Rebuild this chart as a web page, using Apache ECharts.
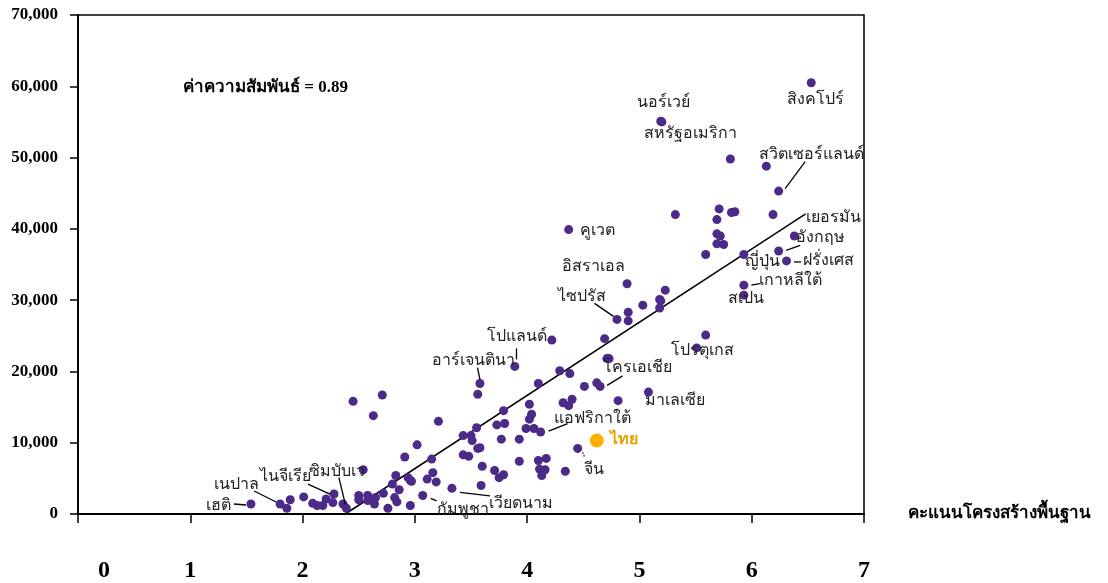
<!DOCTYPE html>
<html>
<head>
<meta charset="utf-8">
<script src="https://cdn.jsdelivr.net/npm/echarts@6/dist/echarts.min.js"></script>
<style>
html,body{margin:0;padding:0;background:#fff;}
#chart{width:1108px;height:583px;}
</style>
</head>
<body>
<div id="chart"></div>
<script>
// ---- data ----
// x: infrastructure score, y: GDP per capita (USD)
const labeledNames = ['เฮติ','เนปาล','ไนจีเรีย','ซิมบับเว','กัมพูชา','เวียดนาม','จีน','แอฟริกาใต้','มาเลเซีย','โครเอเชีย','โปรตุเกส','อาร์เจนตินา','โปแลนด์','ไซปรัส','อิสราเอล','คูเวต','นอร์เวย์','สหรัฐอเมริกา','สิงคโปร์','สวิตเซอร์แลนด์','เยอรมัน','อังกฤษ','ฝรั่งเศส','ญี่ปุ่น','เกาหลีใต้','สเปน'];
const labeledX = [1.54,1.80,2.28,2.39,3.07,3.33,4.45,4.12,5.08,4.65,5.51,3.58,3.89,4.80,4.89,4.37,5.19,5.20,6.53,6.24,6.38,6.24,6.31,5.93,5.93,5.93];
const labeledY = [1400,1400,2800,800,2600,3600,9200,11500,17100,17900,23300,18300,20700,27300,32300,39900,55100,55000,60500,45300,39000,36900,35500,36400,32100,30700];

const otherX = [1.86,1.89,2.01,2.09,2.13,2.18,2.21,2.27,2.36,2.54,2.45,2.71,2.63,2.50,2.50,2.58,2.58,2.65,2.64,2.72,2.76,2.80,2.83,2.86,2.82,2.84,2.96,2.91,3.02,2.94,2.97,3.11,3.16,3.19,3.15,3.21,3.43,3.51,3.50,3.43,3.48,3.56,3.55,3.56,
  4.22,4.69,4.29,4.38,4.10,4.51,4.62,4.71,4.73,4.81,4.32,4.40,4.37,4.02,4.04,4.02,3.99,4.06,3.79,3.73,3.80,3.58,3.77,3.93,3.60,3.71,3.75,3.79,3.93,4.10,4.17,4.11,4.16,4.13,4.34,3.59,2.96,
  5.32,4.90,4.90,5.03,5.23,5.18,5.19,5.18,5.81,6.13,5.71,5.82,5.85,5.69,6.19,5.69,5.72,5.69,5.75,5.59,5.59];
const otherY = [800,2000,2400,1500,1200,1200,2100,1600,1400,6200,15800,16700,13800,2600,2000,2600,1900,2300,1400,2900,800,4200,5400,3400,2300,1700,1200,8000,9700,5100,4600,4900,5800,4500,7700,13000,11000,10300,11000,8300,8100,9200,12100,16800,
  24400,24600,20100,19700,18300,17900,18400,21800,21800,15900,15600,16100,15200,15400,14000,13300,12000,12000,14500,12500,12700,9300,10500,10500,6700,6100,5100,5500,7400,7500,7800,6300,6200,5400,6000,4000,4700,
  42000,28300,27100,29300,31400,30100,29900,28900,49800,48800,42800,42300,42400,41300,42000,39300,39000,37900,37800,36400,25100];

const thaiName = 'ไทย';
const thaiX = [4.62];
const thaiY = [10300];

// regression line end points
const regX = [2.38, 6.48];
const regY = [0, 42100];

const xTicks = ['0','1','2','3','4','5','6','7'];
const yTicks = ['0','10,000','20,000','30,000','40,000','50,000','60,000','70,000'];

// ---- label layout (pixel offsets from the point) ----
const labelLayout = {
  'เฮติ':      {t:[-32,2],  l:[-17,0,-5,1]},
  'เนปาล':     {t:[-44,-19], l:[-26,-13,-4,-2]},
  'ไนจีเรีย':   {t:[-49,-17], l:[-26,-10,-4,0]},
  'ซิมบับเว':   {t:[-9,-37],  l:[-7.5,-31,-1,-4]},
  'กัมพูชา':    {t:[40,14],   l:[8,3,14,5.5]},
  'เวียดนาม':   {t:[69,15],   l:[8,4,38,7.5]},
  'จีน':       {t:[16,21],   l:[5,4,7,9], dash:true},
  'ไทย':       {t:[27,-1]},
  'แอฟริกาใต้': {t:[52,-13],  l:[8,-1,27,-8.5]},
  'มาเลเซีย':   {t:[27,9]},
  'โครเอเชีย':  {t:[37,-19],  l:[7,-1,22.5,-10.5]},
  'โปรตุเกส':   {t:[6,3]},
  'อาร์เจนตินา': {t:[-6,-23], l:[-2.5,-16,0,-4]},
  'โปแลนด์':    {t:[2,-30],   l:[1.7,-18,1.7,-7]},
  'ไซปรัส':     {t:[-35,-23], l:[-22.5,-16,-3.5,-3]},
  'อิสราเอล':   {t:[-34,-17]},
  'คูเวต':      {t:[29,1]},
  'นอร์เวย์':    {t:[3,-18]},
  'สหรัฐอเมริกา': {t:[29,12]},
  'สิงคโปร์':    {t:[4,17]},
  'สวิตเซอร์แลนด์': {t:[33,-36], l:[26.5,-29.5,6.5,-2.5]},
  'เยอรมัน':    {t:[39,-18]},
  'อังกฤษ':     {t:[42,-13.5], l:[7.5,-0.5,21.5,-5.5]},
  'ฝรั่งเศส':    {t:[42,0],  l:[7.5,1,14.5,1]},
  'ญี่ปุ่น':     {t:[19,7]},
  'เกาหลีใต้':   {t:[47,-4],  l:[7.5,0,16,-1.5]},
  'สเปน':      {t:[2,4]}
};

const PURPLE = '#4B2A88';
const ORANGE = '#FFB000';
const SERIF = "'Liberation Serif', 'Times New Roman', serif";

const pointsData = [];
for (let i = 0; i < otherX.length; i++) pointsData.push([otherX[i], otherY[i]]);
for (let i = 0; i < labeledX.length; i++) pointsData.push([labeledX[i], labeledY[i]]);

const labelData = [];
for (let i = 0; i < labeledX.length; i++) labelData.push([labeledX[i], labeledY[i], labeledNames[i]]);
labelData.push([thaiX[0], thaiY[0], thaiName]);

const chart = echarts.init(document.getElementById('chart'), null, {renderer: 'canvas'});

const option = {
  backgroundColor: '#fff',
  animation: false,
  grid: {left: 78, right: 244, top: 15, bottom: 68, show: true, borderColor: '#000', borderWidth: 1.5},
  xAxis: {
    type: 'value', min: 0, max: 7, interval: 1,
    name: 'คะแนนโครงสร้างพื้นฐาน', nameLocation: 'end', nameGap: 44,
    nameTextStyle: {fontFamily: SERIF, fontWeight: 'bold', fontSize: 17, color: '#000', verticalAlign: 'middle', padding: [8,0,0,0]},
    axisLine: {show: true, onZero: false, lineStyle: {color: '#000', width: 2}},
    axisTick: {show: true, length: 9, lineStyle: {color: '#000', width: 1.5}},
    splitLine: {show: false},
    axisLabel: {
      margin: 45, color: '#000', fontFamily: SERIF, fontWeight: 'bold', fontSize: 24,
      formatter: function (v) { const s = xTicks[Math.round(v)]; return v === 0 ? '{z|' + s + '}' : s; },
      rich: {z: {fontFamily: SERIF, fontWeight: 'bold', fontSize: 24, color: '#000', padding: [0,0,0,52]}}
    }
  },
  yAxis: {
    type: 'value', min: 0, max: 70000, interval: 10000,
    axisLine: {show: true, lineStyle: {color: '#000', width: 2}},
    axisTick: {show: true, length: 8, lineStyle: {color: '#000', width: 1.5}},
    splitLine: {show: false},
    axisLabel: {
      margin: 20, color: '#000', fontFamily: SERIF, fontWeight: 'bold', fontSize: 17,
      formatter: function (v) { return yTicks[Math.round(v / 10000)]; }
    }
  },
  graphic: [{
    type: 'text', left: 183, top: 79,
    style: {text: 'ค่าความสัมพันธ์ = 0.89', font: 'bold 17px ' + SERIF, fill: '#000'}
  }],
  series: [
    {
      type: 'line', data: regX.map((x, i) => [x, regY[i]]), symbol: 'none',
      lineStyle: {color: '#000', width: 1.5}, z: 3, silent: true
    },
    {
      type: 'scatter', data: pointsData, symbolSize: 9,
      itemStyle: {color: PURPLE, opacity: 1}, z: 4
    },
    {
      type: 'scatter', data: thaiX.map((x, i) => [x, thaiY[i]]), symbolSize: 14,
      itemStyle: {color: ORANGE, opacity: 1}, z: 5
    },
    {
      type: 'custom', data: labelData, z: 6, silent: true,
      renderItem: function (params, api) {
        const name = labelData[params.dataIndex][2];
        const p = api.coord([api.value(0), api.value(1)]);
        const lay = labelLayout[name] || {t: [0, 0]};
        const isThai = name === thaiName;
        const children = [{
          type: 'text',
          style: {
            text: name, x: p[0] + lay.t[0], y: p[1] + lay.t[1],
            align: 'center', verticalAlign: 'middle',
            font: (isThai ? 'bold ' : '') + '16px ' + SERIF,
            fill: isThai ? '#E8A000' : '#222'
          }
        }];
        if (lay.l) {
          children.push({
            type: 'line',
            shape: {x1: p[0] + lay.l[0], y1: p[1] + lay.l[1], x2: p[0] + lay.l[2], y2: p[1] + lay.l[3]},
            style: {stroke: '#000', lineWidth: 1.3, lineDash: lay.dash ? [1.5, 1.5] : null}
          });
        }
        return {type: 'group', children: children};
      }
    }
  ]
};
chart.setOption(option);
</script>
</body>
</html>
